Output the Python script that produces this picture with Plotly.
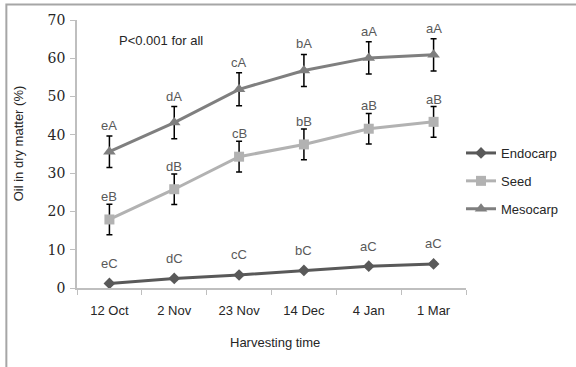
import plotly.graph_objects as go

categories = ["12 Oct", "2 Nov", "23 Nov", "14 Dec", "4 Jan", "1 Mar"]

endocarp = [1.2, 2.5, 3.4, 4.6, 5.7, 6.3]
endocarp_err = [0.4, 0.4, 0.4, 0.4, 0.4, 0.4]
endocarp_lbl = ["eC", "dC", "cC", "bC", "aC", "aC"]

seed = [17.9, 25.8, 34.3, 37.5, 41.6, 43.4]
seed_err = [4.0, 4.0, 4.0, 4.0, 4.0, 4.0]
seed_lbl = ["eB", "dB", "cB", "bB", "aB", "aB"]

mesocarp = [35.6, 43.2, 51.9, 56.8, 60.1, 60.9]
mesocarp_err = [4.1, 4.2, 4.3, 4.2, 4.2, 4.2]
mesocarp_lbl = ["eA", "dA", "cA", "bA", "aA", "aA"]

SANS = "Liberation Sans, Arial, sans-serif"

series = [
    ("Endocarp", endocarp, endocarp_err, endocarp_lbl, "#595959", "diamond", 9, 9),
    ("Seed", seed, seed_err, seed_lbl, "#b2b2b2", "square", 10, -2),
    ("Mesocarp", mesocarp, mesocarp_err, mesocarp_lbl, "#7f7f7f", "triangle-up", 11, 1),
]

fig = go.Figure()
annotations = []
for name, vals, errs, lbls, col, sym, msize, shift in series:
    fig.add_trace(go.Scatter(
        x=categories, y=vals, name=name, mode="lines+markers",
        line=dict(color=col, width=3),
        marker=dict(symbol=sym, size=msize, color=col),
        error_y=dict(type="data", array=errs, visible=True, color="#000000",
                     thickness=1.5, width=3),
        legendgroup=name,
    ))
    for c, v, e, t in zip(categories, vals, errs, lbls):
        annotations.append(dict(
            x=c, y=v + e, text=t, showarrow=False, xref="x", yref="y",
            yanchor="bottom", yshift=shift,
            font=dict(family=SANS, size=13, color="#595959"),
        ))

annotations.append(dict(
    x=(117 - 77) / 391, y=(288 - 40) / 268, xref="paper", yref="paper",
    text="P<0.001 for all", showarrow=False, xanchor="left", yanchor="middle",
    font=dict(family=SANS, size=13, color="#262626"),
))
annotations.append(dict(
    x=(18 - 77) / 391, y=(288 - 143) / 268, xref="paper", yref="paper",
    text="Oil in dry matter (%)", showarrow=False, textangle=-90,
    xanchor="center", yanchor="middle",
    font=dict(family=SANS, size=13, color="#262626"),
))
annotations.append(dict(
    x=(276 - 77) / 391, y=(288 - 342) / 268, xref="paper", yref="paper",
    text="Harvesting time", showarrow=False,
    xanchor="center", yanchor="middle",
    font=dict(family=SANS, size=13, color="#262626"),
))

fig.update_layout(
    width=576, height=367,
    margin=dict(l=77, r=108, t=20, b=79),
    paper_bgcolor="white", plot_bgcolor="white",
    showlegend=True,
    legend=dict(
        x=(463 - 77) / 391, y=(288 - 138) / 268, xanchor="left", yanchor="top",
        font=dict(family=SANS, size=13, color="#262626"),
        tracegroupgap=8, traceorder="grouped", bgcolor="rgba(0,0,0,0)",
    ),
    annotations=annotations,
    xaxis=dict(
        type="category", range=[-0.5, 5.5], showgrid=False,
        showline=True, linecolor="#bfbfbf", linewidth=1.5,
        ticks="outside", tickson="boundaries", ticklen=5, tickcolor="#bfbfbf",
        tickfont=dict(family=SANS, size=13, color="#262626"),
        ticklabelstandoff=10,
    ),
    yaxis=dict(
        range=[0, 70], dtick=10, showgrid=False, zeroline=False,
        showline=True, linecolor="#bfbfbf", linewidth=1.5,
        ticks="outside", ticklen=5, tickcolor="#bfbfbf",
        tickfont=dict(family="DejaVu Serif, serif", size=14, color="#262626"),
        ticklabelstandoff=2,
    ),
    shapes=[dict(
        type="rect", xref="paper", yref="paper",
        x0=(6 - 77) / 391, x1=1.4, y0=-0.4, y1=1 + (20 - 4.5) / 268,
        line=dict(color="#a6a6a6", width=2), fillcolor="rgba(0,0,0,0)",
        layer="below",
    )],
)

fig.write_html("out.html")
